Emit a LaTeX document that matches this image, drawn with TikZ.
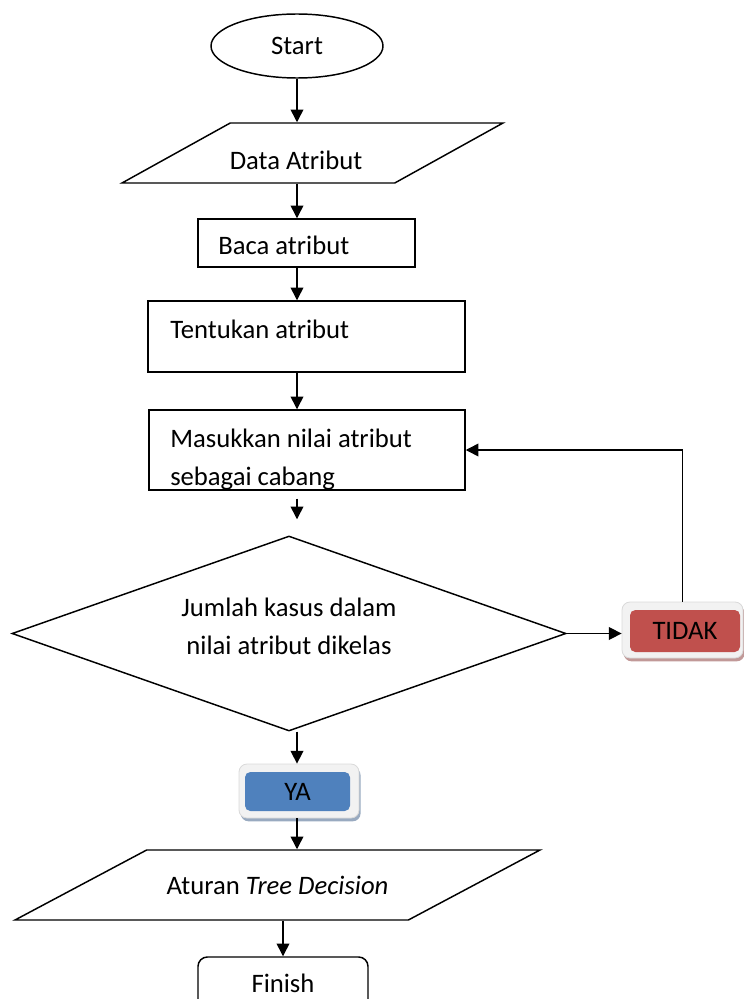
\documentclass[tikz,border=0pt]{standalone}
\usepackage{fontspec}
\setmainfont{Carlito}
\usepackage{tikz}
\usetikzlibrary{
  arrows.meta,
  shapes.geometric,
  positioning,
  shadows
}
\definecolor{fcRed}{HTML}{C0504D}
\definecolor{fcBlue}{HTML}{4F81BD}
\definecolor{fcFrame}{HTML}{F2F2F2}
\definecolor{fcEdge}{HTML}{D9D9D9}
\definecolor{fcShadow}{HTML}{A6A6A6}
\newcommand\fcfont{\fontsize{20}{28}\selectfont}
\tikzset{
  fcnode/.style={draw, line width=1.1pt, inner sep=0pt, font=\fcfont, align=center},
  terminal/.style={fcnode, ellipse, minimum width=129pt, minimum height=48pt},
  iobox/.style 2 args={fcnode, trapezium, inner sep=1pt, trapezium left angle=#1,
    trapezium right angle=#2, trapezium stretches body=true},
  procbox/.style={fcnode, rectangle},
  decision/.style={fcnode, diamond},
  finishbox/.style={fcnode, rounded corners=7pt, minimum width=127.5pt, minimum height=39pt},
  tagframe/.style={draw=fcEdge, fill=fcFrame, line width=0.6pt, rounded corners=6pt,
    drop shadow={shadow xshift=1.2pt, shadow yshift=-2.5pt, fill=#1, opacity=0.8}},
  tagfill/.style={fill=#1, rounded corners=4pt, inner sep=0pt, font=\fcfont},
  boxtext/.style={font=\fcfont, inner sep=0pt, align=left, anchor=base west},
  flow/.style={-{Triangle[length=9.5pt, width=9.5pt]}, line width=1.1pt}
}

\begin{document}
\begin{tikzpicture}[x=0.75pt, y=-0.75pt]
  \useasboundingbox (0,0) rectangle (743,999);
  \node[terminal] (start) at (297,46) {Start};
  \node[iobox={29}{151}, minimum width=285.75pt, text height=29pt, text depth=14pt]
    (data) at (312.5,153) {};
  \node[font=\fcfont, inner sep=0pt] (datatxt) at (296,160) {Data Atribut};
  \node[procbox, minimum width=162.75pt, minimum height=36pt] (baca) at (306.5,243) {};
  \node[boxtext] (bacatxt) at (218,254) {Baca atribut};
  \node[procbox, minimum width=237.75pt, minimum height=53.25pt] (tentukan) at (306.5,336.5) {};
  \node[boxtext] (tentukantxt) at (170,338) {Tentukan atribut};
  \node[procbox, minimum width=237pt, minimum height=60pt] (masukkan) at (307,450) {};
  \node[boxtext] (masukkantxt) at (170,485) {Masukkan nilai atribut\\sebagai cabang};
  \node[decision, minimum width=415.5pt, minimum height=146.25pt, shape aspect=2.84]
    (cek) at (289,633.5) {Jumlah kasus dalam\\nilai atribut dikelas\\[-17pt]};
  \node[tagframe=fcRed!45!fcShadow, minimum width=90.75pt, minimum height=42pt] (tidak) at (682.5,630) {};
  \node[tagfill=fcRed, minimum width=82.5pt, minimum height=31.5pt] (tidaktxt) at (685,631) {TIDAK};
  \node[tagframe=fcBlue!45!fcShadow, minimum width=90pt, minimum height=40.5pt] (ya) at (299,791) {};
  \node[tagfill=fcBlue, minimum width=78.75pt, minimum height=29.25pt] (yatxt) at (297.5,791.5) {YA};
  \node[iobox={28}{152}, minimum width=393.75pt, text height=32pt, text depth=18.5pt]
    (aturan) at (277.5,885) {Aturan \textit{Tree Decision}};
  \node[finishbox] (finish) at (283,983) {Finish};

  \draw[flow] (start.south) -- (start.south |- data.north);
  \draw[flow] (data.south -| start) -- (baca.north -| start);
  \draw[flow] (baca.south -| start) -- (tentukan.north -| start);
  \draw[flow] (tentukan.south -| start) -- (masukkan.north -| start);
  \draw[flow, shorten <=6pt, shorten >=12pt] (masukkan.south -| start) -- (cek.north -| start);
  \draw[flow] (cek.south -| start) -- (ya.north -| start);
  \draw[flow] (ya.south -| start) -- (aturan.north -| start);
  \draw[flow] (aturan.south -| finish) -- (finish.north);
  \draw[flow] (cek.east) -- (cek.east -| tidak.west);
  \draw[flow] (tidak.north) |- (masukkan.east);
\end{tikzpicture}
\end{document}
